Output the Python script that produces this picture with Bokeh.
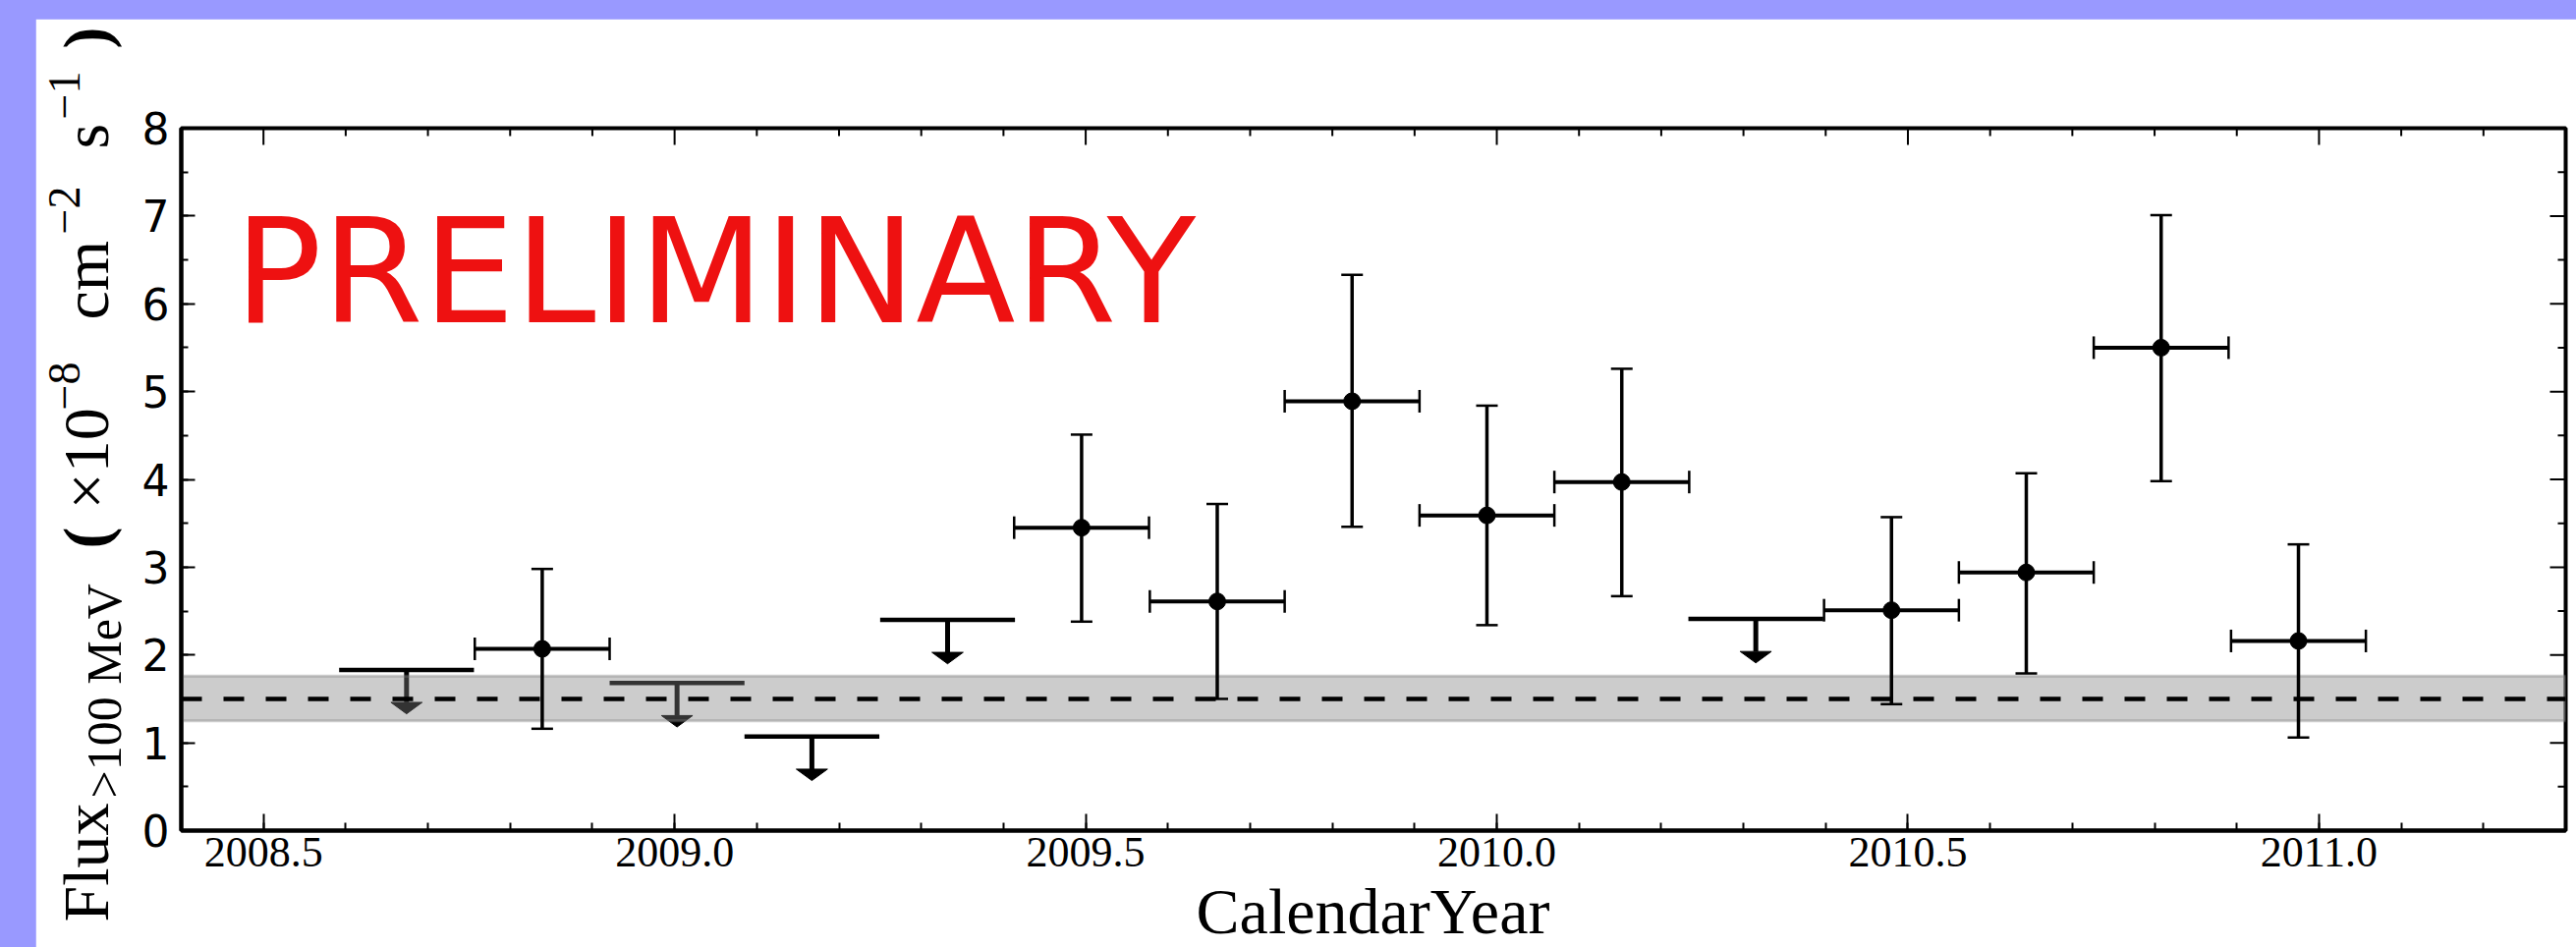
import math
from bokeh.plotting import figure
from bokeh.models import (Range1d, LinearAxis, SingleIntervalTicker, PrintfTickFormatter,
                          ColumnDataSource, Whisker, TeeHead, BoxAnnotation, Span, Label)
from bokeh.core.properties import value
from bokeh.embed import file_html
from bokeh.resources import INLINE

# ---------------- data ----------------
ul_x = [2008.674, 2009.003, 2009.167, 2009.332, 2010.315]
ul_flux = [1.83, 1.68, 1.07, 2.40, 2.41]

det_x = [2008.839, 2009.495, 2009.660, 2009.824, 2009.988,
         2010.152, 2010.480, 2010.644, 2010.808, 2010.975]
det_flux = [2.07, 3.45, 2.61, 4.89, 3.59, 3.97, 2.51, 2.94, 5.50, 2.16]
det_hi = [2.98, 4.51, 3.72, 6.33, 4.84, 5.26, 3.57, 4.07, 7.01, 3.26]
det_lo = [1.16, 2.38, 1.50, 3.46, 2.34, 2.67, 1.44, 1.79, 3.98, 1.06]
bin_half = 0.082

mean_flux = 1.50
mean_lo = 1.25
mean_hi = 1.76

x_major = [2008.5, 2009.0, 2009.5, 2010.0, 2010.5, 2011.0]
y_major = [0, 1, 2, 3, 4, 5, 6, 7, 8]

# ---------------- geometry / style ----------------
X0, X1, Y0, Y1 = 2008.4, 2011.3, 0, 8
W, H = 2586, 945
BL, BR, BT, BB = 148, 11, 111, 119
FW, FH = W - BL - BR, H - BT - BB
PX_X = FW / (X1 - X0)   # px per year
PX_Y = FH / (Y1 - Y0)   # px per flux unit
PAGE_X, PAGE_Y = 36, 19  # figure offset in page


def dx(page_px):
    return X0 + (page_px - PAGE_X - BL) / PX_X


def dy(page_py):
    return Y1 - (page_py - PAGE_Y - BT) / PX_Y


ARROW_LEN = 0.5
HEAD_BASE = 0.37
HEAD_HALF = 0.019

p = figure(width=W, height=H, x_range=Range1d(X0, X1), y_range=Range1d(Y0, Y1),
           output_backend="svg", toolbar_location=None,
           x_axis_type=None, y_axis_type=None,
           min_border_left=BL, min_border_right=BR, min_border_top=BT, min_border_bottom=BB)
p.background_fill_color = "white"
p.border_fill_color = "white"
p.outline_line_color = "black"
p.outline_line_width = 4

xax = LinearAxis(ticker=SingleIntervalTicker(interval=0.5, num_minor_ticks=5),
                 formatter=PrintfTickFormatter(format="%.1f"),
                 major_tick_in=17, major_tick_out=0, minor_tick_in=8, minor_tick_out=0,
                 axis_line_width=4, major_tick_line_width=2, minor_tick_line_width=2,
                 major_label_text_font="Liberation Serif", major_label_text_font_size="44px",
                 major_label_standoff=7, major_label_text_color="black")
yax = LinearAxis(ticker=SingleIntervalTicker(interval=1, num_minor_ticks=2),
                 major_tick_in=14, major_tick_out=0, minor_tick_in=7, minor_tick_out=0,
                 axis_line_width=4, major_tick_line_width=2, minor_tick_line_width=2,
                 major_label_text_font="DejaVu Sans", major_label_text_font_size="44px",
                 major_label_standoff=12, major_label_text_color="black")
p.add_layout(xax, "below")
p.add_layout(yax, "left")

# mirrored ticks on top and right edges
x_minor = [round(X0 + 0.1 * k, 1) for k in range(int(round((X1 - X0) / 0.1)) + 1)]
x_minor = [t for t in x_minor if all(abs(t - m) > 1e-6 for m in x_major)]
y_minor = [m + 0.5 for m in y_major[:-1]]
p.segment(x0=x_major, y0=[Y1] * len(x_major), x1=x_major,
          y1=[Y1 - 17 / PX_Y] * len(x_major), line_color="black", line_width=2)
p.segment(x0=x_minor, y0=[Y1] * len(x_minor), x1=x_minor,
          y1=[Y1 - 8 / PX_Y] * len(x_minor), line_color="black", line_width=2)
p.segment(x0=[X1] * len(y_major), y0=y_major, x1=[X1 - 16 / PX_X] * len(y_major),
          y1=y_major, line_color="black", line_width=2)
p.segment(x0=[X1] * len(y_minor), y0=y_minor, x1=[X1 - 8 / PX_X] * len(y_minor),
          y1=y_minor, line_color="black", line_width=2)

# ---------------- upper limits (under the band) ----------------
ul_src = ColumnDataSource(dict(
    x=ul_x, y=ul_flux,
    x0=[x - bin_half for x in ul_x], x1=[x + bin_half for x in ul_x],
    ys=[f - HEAD_BASE for f in ul_flux],
))
p.segment(x0="x0", y0="y", x1="x1", y1="y", source=ul_src, line_color="black",
          line_width=4.5, level="underlay")
p.segment(x0="x", y0="y", x1="x", y1="ys", source=ul_src, line_color="black",
          line_width=5, level="underlay")
head_xs = [[x - HEAD_HALF, x + HEAD_HALF, x] for x in ul_x]
head_ys = [[f - HEAD_BASE, f - HEAD_BASE, f - ARROW_LEN] for f in ul_flux]
p.patches(head_xs, head_ys, fill_color="black", line_color="black", line_width=1,
          level="underlay")

# ---------------- mean band ----------------
band = BoxAnnotation(bottom=mean_lo, top=mean_hi, fill_color="#808080", fill_alpha=0.4,
                     line_color="#808080", line_alpha=0.4, line_width=3, level="underlay")
p.add_layout(band)

# ---------------- detections ----------------
det_src = ColumnDataSource(dict(
    x=det_x, y=det_flux, hi=det_hi, lo=det_lo,
    xl=[x - bin_half for x in det_x], xh=[x + bin_half for x in det_x],
))
vw = Whisker(base="x", upper="hi", lower="lo", source=det_src, dimension="height",
             line_width=3.5, line_color="black", level="glyph",
             upper_head=TeeHead(size=22, line_width=2.5, line_color="black"),
             lower_head=TeeHead(size=22, line_width=2.5, line_color="black"))
hw = Whisker(base="y", upper="xh", lower="xl", source=det_src, dimension="width",
             line_width=4, line_color="black", level="glyph",
             upper_head=TeeHead(size=23, line_width=2.5, line_color="black"),
             lower_head=TeeHead(size=23, line_width=2.5, line_color="black"))
p.add_layout(vw)
p.add_layout(hw)
p.scatter(x="x", y="y", source=det_src, size=17, marker="circle",
          fill_color="black", line_color="black")

# ---------------- mean dashed line ----------------
p.add_layout(Span(location=mean_flux, dimension="width", line_color="black",
                  line_width=4.5, line_dash="21 22", level="annotation"))

# ---------------- PRELIMINARY ----------------
p.add_layout(Label(x=dx(238), y=dy(276), text="PRELIMINARY", text_font="DejaVu Sans",
                   text_font_size="148px", text_color="#ee1111",
                   text_align="left", text_baseline="middle"))

# ---------------- axis titles (text glyphs, drawn unclipped) ----------------
SERIF = value("Liberation Serif")
p.text(x=[dx(1397)], y=[dy(949 - 22)], text=["CalendarYear"], text_font=SERIF,
       text_font_size=value("66px"), text_align="center", text_baseline="middle",
       text_color="black", level="overlay")

# (text, baseline page-x, start page-y, size, style)
ylab = [
    ("Flux", 109, 938, 66, "normal"),
    (">100 MeV", 122, 812, 50, "normal"),
    ("(", 109, 558, 66, "bold"),
    ("\u00d710", 109, 518, 66, "normal"),
    ("\u22128", 81, 417, 46, "normal"),
    ("cm", 109, 325, 66, "normal"),
    ("\u22122", 81, 238, 46, "normal"),
    ("s", 109, 151, 66, "normal"),
    ("\u22121", 81, 121, 46, "normal"),
    (")", 109, 49, 66, "bold"),
]
for txt, bx, sy, fs, fw in ylab:
    p.text(x=[dx(bx - 0.3375 * fs)], y=[dy(sy)], text=[txt], angle=math.pi / 2,
           text_font=SERIF, text_font_size=value(f"{fs}px"), text_font_style=value(fw),
           text_align="left", text_baseline="middle", text_color="black", level="overlay")

html = file_html(p, INLINE)
css = ("<style>html,body{margin:0;padding:0;overflow:hidden;background:#9999ff;}"
       "body{padding:19px 0 0 36px;}</style>")
frame_div = ('<div style="position:fixed;left:34px;top:17px;width:3000px;height:3000px;'
             'background:#000088;z-index:-1;"></div>')
html = html.replace("</head>", css + "</head>", 1)
html = html.replace("<body>", "<body>" + frame_div, 1)
open("out.html", "w").write(html)
